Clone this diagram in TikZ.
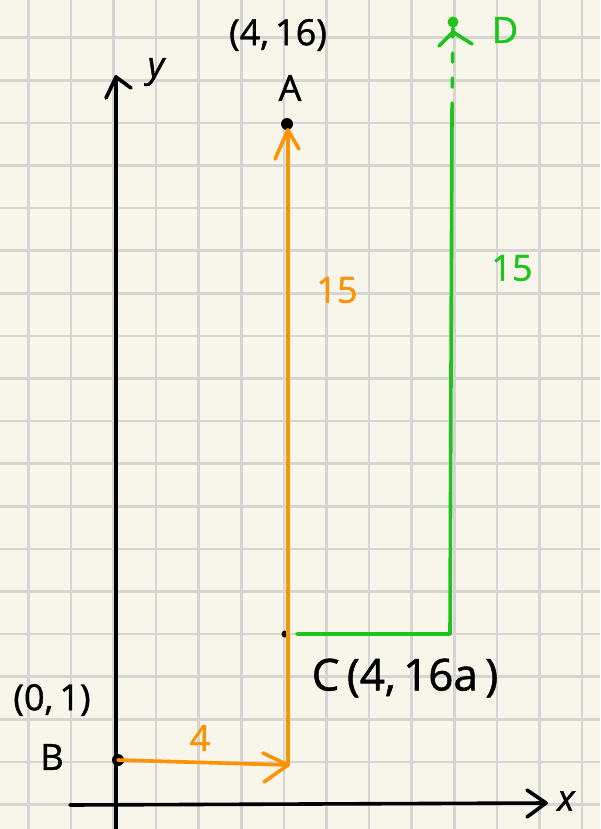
\documentclass[tikz,border=0pt]{standalone}
\usepackage{fontspec}
\setmainfont[FakeBold=1.2]{Open Sans}
\usetikzlibrary{calc}
\definecolor{paper}{HTML}{F8F6EA}
\definecolor{gridc}{HTML}{D5D5D3}
\definecolor{orng}{HTML}{FF9200}
\definecolor{grn}{HTML}{1FC41B}
\tikzset{
  gridline/.style={draw=gridc, line width=2.6pt},
  axis/.style={draw=black, line width=3.6pt, line cap=round, line join=round},
  opath/.style={draw=orng, line width=3.6pt, line cap=round, line join=round},
  gpath/.style={draw=grn, line width=3.6pt, line cap=round, line join=round},
  hand/.style={inner sep=0pt, font=\fontsize{36}{36}\selectfont},
  dotb/.style={circle, fill=black, inner sep=0pt, minimum size=12pt},
}
\begin{document}
\begin{tikzpicture}[x=1pt,y=-1pt]
\useasboundingbox (0,0) rectangle (600,829);
\fill[paper] (0,0) rectangle (600,829);
\foreach \i in {0,...,13} \draw[gridline] ({28.3+42.6*\i},0) -- ++(0,829);
\foreach \j in {0,...,18} \draw[gridline] (0,{37.7+42.6*\j}) -- ++(600,0);

% axes
\coordinate (yb) at (116,829);
\coordinate (yt) at (116,77);
\coordinate (xl) at (70,805);
\coordinate (xr) at (546,803);
\draw[axis] (yb) -- (yt);
\draw[axis] ($(yt)+(-10,21)$) -- (yt) -- ($(yt)+(15,11)$);
\draw[axis] (xl) -- (xr);
\draw[axis] ($(xr)+(-19,-13)$) -- (xr) -- ($(xr)+(-19,14)$);
\node[hand] (ylab) at (156,72) {\itshape y};
\node[hand] (xlab) at (566,801) {\itshape x};

% points
\node[dotb] (B) at (118,760) {};
\node[dotb] (A) at (287,124) {};
\node[circle, fill=black, inner sep=0pt, minimum size=7pt] (C) at (285,634) {};
\node[circle, fill=grn, inner sep=0pt, minimum size=11pt] (D) at (453,22) {};

% orange path
\coordinate (P) at (288,765);
\coordinate (Atip) at (288,130);
\draw[opath] (B.center) -- (P) -- (Atip);
\draw[opath] ($(P)+(-25,-12)$) -- (P) -- ($(P)+(-24,17)$);
\draw[opath] ($(Atip)+(-13,29)$) -- (Atip) -- ($(Atip)+(11,19)$);
\node[hand, text=orng] (four) at (200,738) {4};
\node[hand, text=orng] (fifteenO) at (337,290) {15};

% green path
\coordinate (C1) at (297,634);
\coordinate (G) at (450,634);
\coordinate (Gtop) at (452,112);
\coordinate (Dtip) at (453,32);
\draw[gpath] (C1) -- (G) -- (Gtop);
\draw[gpath, dash pattern=on 9pt off 16pt] (Gtop) -- (D);
\draw[gpath] ($(Dtip)+(-14,14)$) -- (Dtip) -- ($(Dtip)+(19,12)$);
\node[hand, text=grn] (fifteenG) at (512,268) {15};
\node[hand, text=grn] (Dlab) at (505,30) {D};

% labels
\node[hand] (Alab) at (290,88) {A};
\node[hand] (Acoord) at (278,35) {(4,\,16)};
\node[hand] (Blab) at (52,757) {B};
\node[hand] (Bcoord) at (52,700) {(0,\,1)};
\node[hand, font=\fontsize{44}{44}\selectfont] (Clab) at (405,678) {C\,(4,\,16a\,)};
\end{tikzpicture}
\end{document}
